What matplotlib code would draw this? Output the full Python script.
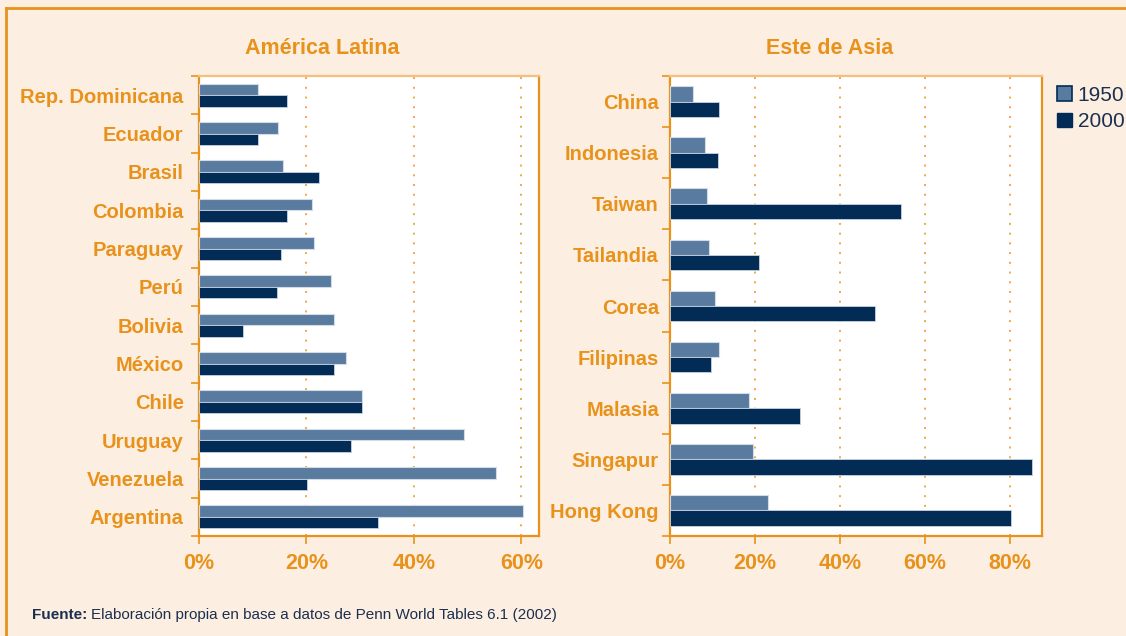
import matplotlib.pyplot as plt
from matplotlib.patches import Patch
import numpy as np

# datos (porcentaje)
latam = ['Rep. Dominicana', 'Ecuador', 'Brasil', 'Colombia', 'Paraguay', 'Perú',
         'Bolivia', 'México', 'Chile', 'Uruguay', 'Venezuela', 'Argentina']
latam_1950 = [10.9, 14.7, 15.6, 21.1, 21.4, 24.6, 25.2, 27.3, 30.4, 49.4, 55.3, 60.3]
latam_2000 = [16.4, 11.0, 22.3, 16.4, 15.2, 14.5, 8.2, 25.1, 30.3, 28.3, 20.1, 33.3]

asia = ['China', 'Indonesia', 'Taiwan', 'Tailandia', 'Corea', 'Filipinas',
        'Malasia', 'Singapur', 'Hong Kong']
asia_1950 = [5.5, 8.3, 8.6, 9.1, 10.7, 11.5, 18.7, 19.5, 23.0]
asia_2000 = [11.5, 11.3, 54.4, 20.9, 48.2, 9.7, 30.5, 85.3, 80.3]

latam_ticks = [0, 20, 40, 60]
asia_ticks = [0, 20, 40, 60, 80]

orange = '#E8921C'
light_orange = '#F4C07C'
c1950 = '#5A7BA0'
c2000 = '#022C55'
bg = '#FCEFE1'
navy = '#1B2F4F'

plt.rcParams['font.family'] = ['Liberation Sans', 'DejaVu Sans']

fig = plt.figure(figsize=(11.26, 6.36), dpi=100, facecolor=bg)


def panel(rect, cats, v1, v2, ticks, xmax, ypad):
    ax = fig.add_axes(rect)
    ax.set_facecolor('white')
    y = np.arange(len(cats))
    h = 0.3
    ax.barh(y - h / 2, v1, height=h, color=c1950, edgecolor='#D3DCE6', linewidth=0.8, zorder=3)
    ax.barh(y + h / 2, v2, height=h, color=c2000, edgecolor='#C9D3DF', linewidth=0.6, zorder=3)
    ax.set_ylim(len(cats) - 0.5, -0.5)
    ax.set_xlim(0, xmax)
    ax.set_yticks(y)
    ax.set_yticklabels(cats, fontsize=14.5, fontweight='bold', color=orange)
    ax.set_yticks(np.arange(len(cats) + 1) - 0.5, minor=True)
    ax.tick_params(axis='y', which='major', length=0, pad=ypad)
    ax.tick_params(axis='y', which='minor', length=6, width=1.2, color=orange, direction='out')
    ax.set_xticks(ticks)
    ax.set_xticklabels([f'{t}%' for t in ticks], fontsize=15.5, fontweight='bold', color=orange)
    ax.tick_params(axis='x', length=6, width=1.2, color=orange, pad=6)
    ax.grid(axis='x', color=orange, linestyle=(0, (1, 4)), linewidth=1.4, alpha=0.8, zorder=1)
    for s in ['left', 'bottom', 'right']:
        ax.spines[s].set_color(orange)
        ax.spines[s].set_linewidth(1.6)
    ax.spines['top'].set_color(light_orange)
    ax.spines['top'].set_linewidth(1.6)
    return ax


panel([199 / 1126, 100 / 636, 340 / 1126, 460 / 636], latam, latam_1950, latam_2000,
      latam_ticks, 63.3, 11)
panel([670 / 1126, 100 / 636, 372 / 1126, 460 / 636], asia, asia_1950, asia_2000,
      asia_ticks, 87.6, 8)

fig.text(322 / 1126, 1 - 49 / 636, 'América Latina', fontsize=15.5, fontweight='bold',
         color=orange, ha='center', va='center')
fig.text(830 / 1126, 1 - 49 / 636, 'Este de Asia', fontsize=15.5, fontweight='bold',
         color=orange, ha='center', va='center')

handles = [Patch(facecolor=c1950, edgecolor=c2000, linewidth=1.2, label='1950'),
           Patch(facecolor=c2000, edgecolor=c2000, label='2000')]
fig.legend(handles=handles, loc='upper left', bbox_to_anchor=(1057 / 1126, 1 - 86 / 636),
           frameon=False, labelcolor=navy, handlelength=0.7, handleheight=0.7,
           handletextpad=0.3, labelspacing=0.35, borderpad=0, borderaxespad=0,
           prop={'size': 15})

# marco de la figura
fig.add_artist(plt.Line2D([6 / 1126, 6 / 1126], [0, 1 - 8 / 636], color=orange, lw=2))
fig.add_artist(plt.Line2D([6 / 1126, 1], [1 - 8 / 636, 1 - 8 / 636], color=orange, lw=2))

t1 = fig.text(32 / 1126, 1 - 615 / 636, 'Fuente:', fontsize=11, fontweight='bold',
              color=navy, va='center')
fig.canvas.draw()
bb = t1.get_window_extent()
fig.text((bb.x1 + 4) / 1126, 1 - 615 / 636,
         'Elaboración propia en base a datos de Penn World Tables 6.1 (2002)',
         fontsize=11, color=navy, va='center')

fig.savefig('out.png', dpi=100, facecolor=bg)
